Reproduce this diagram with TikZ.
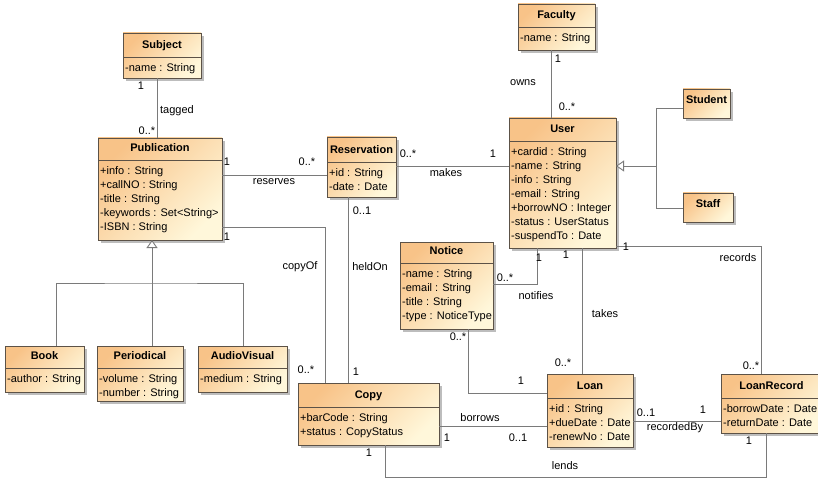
\documentclass[tikz,border=0pt]{standalone}
\usepackage{fontspec}
\setmainfont{Liberation Sans}
\usetikzlibrary{calc,arrows.meta}

\definecolor{boxtop}{HTML}{F8C388}
\definecolor{boxbot}{HTML}{FFF7DA}
\definecolor{boxedge}{HTML}{5C5247}
\definecolor{wire}{HTML}{7A7A7A}
\definecolor{shadowgray}{HTML}{BDBDBD}

\tikzset{
  classbox/.style={draw=boxedge, line width=0.8pt, top color=boxtop,
    bottom color=boxbot, shading angle=45, inner sep=0pt, outer sep=0pt},
  ctitle/.style={font=\fontsize{11}{13}\selectfont\bfseries, inner sep=0pt, anchor=base},
  cattr/.style={font=\fontsize{11}{13}\selectfont, inner sep=0pt, anchor=base west},
  lbl/.style={font=\fontsize{11}{13}\selectfont, inner sep=0pt},
  assoc/.style={draw=wire, line width=0.9pt},
  gen/.style={assoc, -{Triangle[open, length=8pt, width=11pt, fill=white]}},
}

% \umlclass{name}{x1}{y1}{x2}{y2}{compartment line y}{title}{attributes}
\newcommand\umlclass[8]{%
  \fill[shadowgray] (#2+3,#3+3) rectangle (#4+3,#5+3);
  \node[classbox, anchor=north west, minimum width={(#4-#2)*1pt},
        minimum height={(#5-#3)*1pt}] (#1) at (#2,#3) {};
  \node[ctitle] (#1-t) at ({(#2+#4)/2},#6-8.5) {#7};
  \if\relax\detokenize{#8}\relax\else
    \draw[boxedge, line width=0.8pt] (#2,#6) -- (#4,#6);
    \foreach \a [count=\i from 0] in {#8}
      \node[cattr] (#1-a\i) at (#2+2,#6+14.5+14*\i) {\a};
  \fi
}

\begin{document}
\begin{tikzpicture}[x=1pt, y=-1pt]
\useasboundingbox (0,0) rectangle (818,478);
\clip (0,0) rectangle (818,478);
\fill[white] (0,0) rectangle (818,478);

% classes
\umlclass{subj}{123}{33}{201}{78}{57}{Subject}{-name : String}
\umlclass{pub}{98}{138}{222}{240}{160}{Publication}%
  {+info : String,+callNO : String,-title : String,-keywords : Set<String>,-ISBN : String}
\umlclass{res}{327}{137}{396}{197}{162}{Reservation}{+id : String,-date : Date}
\umlclass{fac}{518}{4}{595}{50}{27}{Faculty}{-name : String}
\umlclass{user}{509}{118}{616}{248}{141}{User}%
  {+cardid : String,-name : String,-info : String,-email : String,+borrowNO : Integer,-status : UserStatus,-suspendTo : Date}
\umlclass{stud}{683}{89}{730}{118}{112}{Student}{}
\umlclass{staff}{683}{193}{733}{222}{216}{Staff}{}
\umlclass{book}{5}{346}{84}{392}{368}{Book}{-author : String}
\umlclass{peri}{97}{346}{183}{401}{368}{Periodical}{-volume : String,-number : String}
\umlclass{av}{198}{346}{287}{392}{368}{AudioVisual}{-medium : String}
\umlclass{notice}{400}{242}{493}{329}{263}{Notice}%
  {-name : String,-email : String,-title : String,-type : NoticeType}
\umlclass{copy}{298}{383}{439}{445}{407}{Copy}{+barCode : String,+status : CopyStatus}
\umlclass{loan}{547}{374}{633}{447}{398}{Loan}{+id : String,+dueDate : Date,-renewNo : Date}
\umlclass{lrec}{721}{374}{822}{433}{398}{LoanRecord}{-borrowDate : Date,-returnDate : Date}

% junction points of the generalization trees
\coordinate (pjoin) at ($(pub.south west)+(54,43)$);
\coordinate (ujoin) at ($(user.north east)+(40,48)$);

% generalizations
\draw[gen] ($(peri.north west)+(55,0)$) -- ($(pub.south west)+(54,0)$);
\draw[assoc] ($(book.north west)+(51,0)$) |- (pjoin) -| ($(av.north west)+(45,0)$);
\draw[gen] ($(stud.north west)+(0,19)$) -| (ujoin) -- ($(user.north east)+(0,48)$);
\draw[assoc] ($(staff.north west)+(0,15)$) -| (ujoin);

% associations
\draw[assoc] ($(subj.south west)+(34,0)$) -- ($(pub.north west)+(59,0)$);
\draw[assoc] ($(pub.north east)+(0,37)$) -- ($(res.north west)+(0,38)$);
\draw[assoc] ($(pub.north east)+(0,89)$) -| ($(copy.north west)+(27,0)$);
\draw[assoc] ($(res.south west)+(21,0)$) -- ($(copy.north west)+(50,0)$);
\draw[assoc] ($(res.north east)+(0,29)$) -- ($(user.north west)+(0,48)$);
\draw[assoc] ($(fac.south west)+(33,0)$) -- ($(user.north west)+(42,0)$);
\draw[assoc] ($(notice.north east)+(0,42)$) -| ($(user.south west)+(28,0)$);
\draw[assoc] ($(user.south west)+(73,0)$) -- ($(loan.north west)+(35,0)$);
\draw[assoc] ($(user.south east)+(0,-2)$) -| ($(lrec.north west)+(40,0)$);
\draw[assoc] ($(notice.south west)+(68,0)$) |- ($(loan.north west)+(0,19)$);
\draw[assoc] ($(copy.north east)+(0,43)$) -- ($(loan.north west)+(0,52)$);
\draw[assoc] ($(loan.north east)+(0,47)$) -- ($(lrec.north west)+(0,47)$);
\draw[assoc] ($(copy.south west)+(87,0)$) -- ++(0,32) -| ($(lrec.south west)+(45,0)$);

% role names and multiplicities
\node[lbl] (m1) at (141,86) {1};
\node[lbl] (n1) at (177,111) {tagged};
\node[lbl] (m2) at (147,131) {0..*};
\node[lbl] (m3) at (227,162) {1};
\node[lbl] (m4) at (307,162) {0..*};
\node[lbl] (n2) at (274,182) {reserves};
\node[lbl] (m5) at (227,237) {1};
\node[lbl] (n3) at (300,267) {copyOf};
\node[lbl] (m6) at (306,370) {0..*};
\node[lbl] (m7) at (362,211) {0..1};
\node[lbl] (n4) at (370,267) {heldOn};
\node[lbl] (m8) at (356,372) {1};
\node[lbl] (m9) at (408,154) {0..*};
\node[lbl] (m10) at (493,154) {1};
\node[lbl] (n5) at (446,173) {makes};
\node[lbl] (m11) at (558,59) {1};
\node[lbl] (n6) at (523,83) {owns};
\node[lbl] (m12) at (567,107) {0..*};
\node[lbl] (m13) at (539,258) {1};
\node[lbl] (m14) at (505,278) {0..*};
\node[lbl] (n7) at (536,296) {notifies};
\node[lbl] (m15) at (566,255) {1};
\node[lbl] (n8) at (605,314) {takes};
\node[lbl] (m16) at (563,363) {0..*};
\node[lbl] (m17) at (626,247) {1};
\node[lbl] (n9) at (738,258) {records};
\node[lbl] (m18) at (751,366) {0..*};
\node[lbl] (m19) at (458,337) {0..*};
\node[lbl] (m20) at (521,381) {1};
\node[lbl] (n10) at (480,418) {borrows};
\node[lbl] (m21) at (447,438) {1};
\node[lbl] (m22) at (518,438) {0..1};
\node[lbl] (m23) at (646,413) {0..1};
\node[lbl] (m24) at (703,410) {1};
\node[lbl] (n11) at (675,428) {recordedBy};
\node[lbl] (m25) at (369,453) {1};
\node[lbl] (n12) at (565,466) {lends};
\node[lbl] (m26) at (749,441) {1};
\end{tikzpicture}
\end{document}
